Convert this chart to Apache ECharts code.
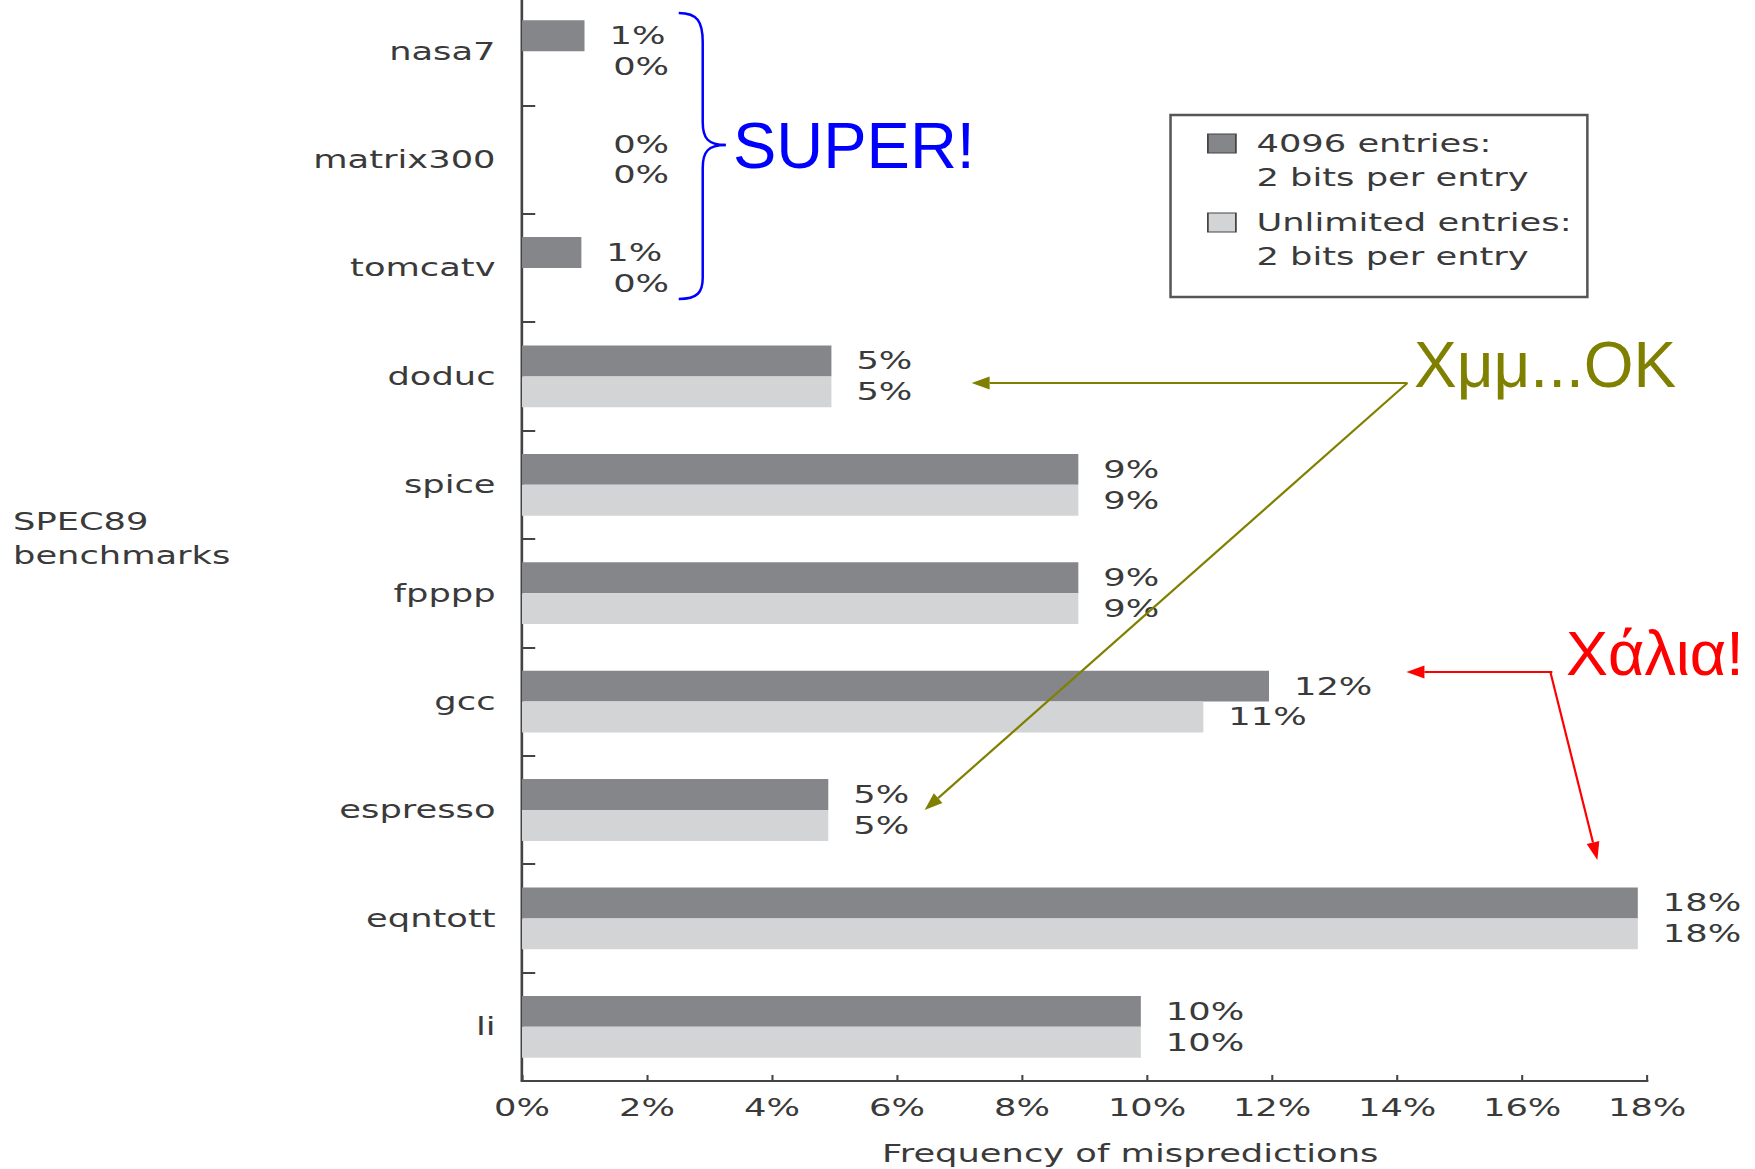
<!DOCTYPE html>
<html>
<head>
<meta charset="utf-8">
<title>SPEC89 branch mispredictions</title>
<script src="https://cdn.jsdelivr.net/npm/echarts@6/dist/echarts.min.js"></script>
<style>
html, body { margin: 0; padding: 0; background: #fff; overflow: hidden; }
#main { height: 1169px; transform-origin: 0 0; }
</style>
</head>
<body>
<div id="main"></div>
<script>
// data
var benchmarks = ['nasa7', 'matrix300', 'tomcatv', 'doduc', 'spice', 'fpppp', 'gcc', 'espresso', 'eqntott', 'li'];
var entries4096 = [1.0, 0, 0.95, 4.95, 8.9, 8.9, 11.95, 4.9, 17.85, 9.9];
var unlimited = [0, 0, 0, 4.95, 8.9, 8.9, 10.9, 4.9, 17.85, 9.9];
var pctTicks = [0, 2, 4, 6, 8, 10, 12, 14, 16, 18];
var seriesNames = ['4096 entries:\n2 bits per entry', 'Unlimited entries:\n2 bits per entry'];

// the source picture is stretched sideways, so the chart is drawn narrow and widened
var S = 1.47;
var el = document.getElementById('main');
el.style.width = (1755 / S) + 'px';
el.style.transform = 'scaleX(' + S + ')';

var FONT = 'DejaVu Sans';
var TXT = '#3a3a3a';
var AXIS = '#444';

function barData(vals) {
	return vals.map(function (v) {
		// the book puts "0%" where a 1% label would sit
		return v === 0 ? { value: v, label: { offset: [45, 0] } } : v;
	});
}

function arrow(x1, y1, x2, y2, color) {
	var dx = x2 - x1, dy = y2 - y1;
	var len = Math.sqrt(dx * dx + dy * dy);
	var ux = dx / len, uy = dy / len;
	var hl = 18, hw = 6.5;
	var bx = x2 - ux * hl, by = y2 - uy * hl;
	return [
		{ type: 'line', shape: { x1: x1, y1: y1, x2: bx, y2: by }, style: { stroke: color, lineWidth: 2.2 } },
		{ type: 'polygon', shape: { points: [[x2, y2], [bx - uy * hw, by + ux * hw], [bx + uy * hw, by - ux * hw]] }, style: { fill: color } }
	];
}

function curve(x1, y1, c1x, c1y, c2x, c2y, x2, y2, color) {
	return { type: 'bezierCurve', shape: { x1: x1, y1: y1, cpx1: c1x, cpy1: c1y, cpx2: c2x, cpy2: c2y, x2: x2, y2: y2 }, style: { fill: 'none', stroke: color, lineWidth: 2.5 } };
}
function seg(x1, y1, x2, y2, color) {
	return { type: 'line', shape: { x1: x1, y1: y1, x2: x2, y2: y2 }, style: { stroke: color, lineWidth: 2.5 } };
}

var BLUE = '#0000ff';
// notes drawn on top of the slide, in page pixels
var notes = [
	{ type: 'rect', shape: { x: 1171, y: 115, width: 417, height: 182 }, style: { fill: 'none', stroke: '#555', lineWidth: 2.5 } },
	curve(679, 13, 698, 13, 703, 22, 703, 42, BLUE),
	seg(703, 42, 703, 122, BLUE),
	curve(703, 122, 703, 138, 708, 145, 726, 145, BLUE),
	curve(726, 145, 708, 145, 703, 152, 703, 168, BLUE),
	seg(703, 168, 703, 278, BLUE),
	curve(703, 278, 703, 292, 698, 299, 679, 299, BLUE),
	{ type: 'text', x: 733, y: 145, style: { text: 'SUPER!', fontFamily: 'Liberation Sans', fontSize: 65, fill: BLUE, verticalAlign: 'middle' } },
	{ type: 'text', x: 1414, y: 365, style: { text: 'Χμμ...OK', fontFamily: 'Liberation Sans', fontSize: 64, fill: '#808000', verticalAlign: 'middle' } },
	{ type: 'text', x: 1566, y: 653, style: { text: 'Χάλια!', fontFamily: 'Liberation Sans', fontSize: 63, fill: '#ff0000', verticalAlign: 'middle' } }
].concat(
	arrow(1408, 383, 972, 383, '#808000'),
	arrow(1408, 383, 925, 810, '#808000'),
	arrow(1553, 672, 1407, 672, '#ff0000'),
	arrow(1551, 672, 1598, 860, '#ff0000')
);
notes.forEach(function (n) { n.z = 100; });

var myChart = echarts.init(el, null, { renderer: 'svg' });
var option = {
	animation: false,
	backgroundColor: '#fff',
	grid: {
		left: 522 / S,
		right: 1755 / S - 1647 / S,
		top: -3,
		bottom: 88,
		outerBoundsMode: 'none'
	},
	legend: {
		orient: 'vertical',
		left: 1207 / S,
		top: 92.5,
		padding: 0,
		itemGap: -23,
		itemWidth: 28 / S,
		itemHeight: 19,
		icon: 'rect',
		selectedMode: false,
		// empty first line so the square sits beside the first line of text
		formatter: function (name) { return '\n' + name; },
		itemStyle: { borderColor: '#444', borderWidth: 1.2 },
		textStyle: { fontFamily: FONT, fontSize: 24, color: TXT, lineHeight: 34, padding: [0, 0, 0, 9] },
		data: seriesNames
	},
	xAxis: {
		type: 'value',
		min: pctTicks[0],
		max: pctTicks[pctTicks.length - 1],
		interval: pctTicks[1] - pctTicks[0],
		name: 'Frequency of mispredictions',
		nameLocation: 'middle',
		nameGap: 61,
		nameTextStyle: { fontFamily: FONT, fontSize: 24, color: TXT, padding: [0, 0, 0, 62] },
		axisLine: { show: true, lineStyle: { color: AXIS, width: 2 } },
		axisTick: { show: true, inside: true, length: 6, lineStyle: { color: AXIS, width: 1.4 } },
		axisLabel: { formatter: '{value}%', margin: 15, fontFamily: FONT, fontSize: 24, color: TXT },
		splitLine: { show: false }
	},
	yAxis: {
		type: 'category',
		inverse: true,
		data: benchmarks,
		name: 'SPEC89\nbenchmarks',
		nameLocation: 'middle',
		nameRotate: 0,
		nameGap: 522 / S - 13 / S,
		nameTextStyle: { fontFamily: FONT, fontSize: 24, color: TXT, lineHeight: 34, align: 'left', verticalAlign: 'middle' },
		axisLine: { show: true, lineStyle: { color: AXIS, width: 1.8 } },
		axisTick: { show: true, inside: true, length: 9, lineStyle: { color: AXIS, width: 2 } },
		axisLabel: { margin: 18, fontFamily: FONT, fontSize: 24, color: TXT },
		splitLine: { show: false }
	},
	series: [
		{
			name: seriesNames[0],
			type: 'bar',
			data: barData(entries4096),
			barWidth: '28.5%',
			barGap: '0%',
			itemStyle: { color: '#858689' },
			label: {
				show: true, position: 'right', distance: 17,
				formatter: function (p) { return Math.round(p.value) + '%'; },
				fontFamily: FONT, fontSize: 24, color: TXT
			}
		},
		{
			name: seriesNames[1],
			type: 'bar',
			data: barData(unlimited),
			barWidth: '28.5%',
			barGap: '0%',
			itemStyle: { color: '#d3d4d6' },
			label: {
				show: true, position: 'right', distance: 17,
				formatter: function (p) { return Math.round(p.value) + '%'; },
				fontFamily: FONT, fontSize: 24, color: TXT
			}
		}
	],
	graphic: [
		{ type: 'group', x: 0, y: 0, scaleX: 1 / S, z: 100, children: notes }
	]
};
myChart.setOption(option, true);
</script>
</body>
</html>
